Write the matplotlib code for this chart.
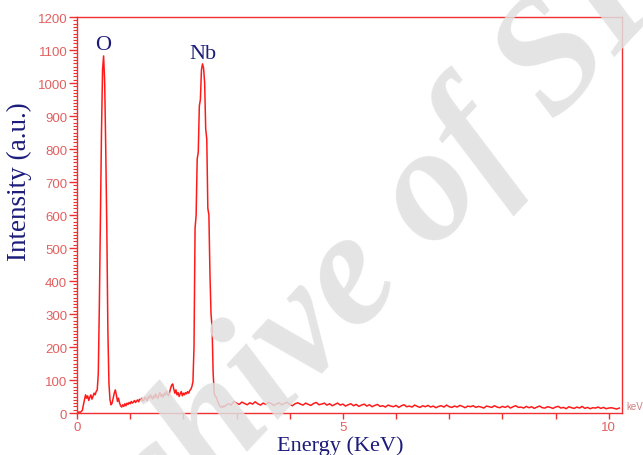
import numpy as np
import matplotlib.pyplot as plt
from matplotlib.ticker import MultipleLocator

# EDS spectrum, low-energy part: channels of 0.02 keV from 0 to 2.80 keV
e_low_start, e_low_step = 0.0, 0.02
counts_low = [
    0, 2, 3, 2, 5, 8, 25, 40, 55, 45, 52, 38, 48, 55, 42, 50, 60, 55, 65, 70,   # 0.00-0.38
    120, 330, 600, 850, 1040, 1082, 1000, 800, 560, 250, 90, 40,                 # 0.40-0.62 (O Ka)
    25, 30, 45, 60, 70, 55, 35, 45, 30, 22, 18, 25, 20, 28, 22, 30, 26, 32,      # 0.64-0.98
    28, 35, 30, 33, 38, 32, 36, 40, 34, 42, 38, 45, 36, 40, 48, 42, 38, 50,      # 1.00-1.34
    45, 55, 48, 42, 52, 46, 58, 50, 44, 55, 62, 50, 56, 48, 60, 54, 65, 58,      # 1.36-1.70
    52, 62, 75, 85, 88, 72, 60, 70, 55, 62, 50, 58, 65, 52, 60, 55, 62, 58,      # 1.72-2.06
    65, 60, 68, 72, 80, 95, 200, 560, 600, 770, 790, 930, 950, 1040, 1058,       # 2.08-2.36
    1045, 1000, 860, 830, 620, 600, 420, 300, 260, 120, 60, 50, 48, 38, 30,      # 2.38-2.66 (Nb L)
    22, 18, 20, 17, 22, 19, 24,                                                  # 2.68-2.80
]

# high-energy part: channels of 0.05 keV from 2.85 to 10.20 keV
e_high_start, e_high_step = 2.85, 0.05
counts_high = [
    28, 24, 35, 30, 26, 33, 29, 25, 31, 27, 34, 28, 24, 30, 26, 32, 29, 23, 27, 31,  # 2.85-3.80
    25, 29, 33, 26, 22, 28, 31, 27, 24, 30, 26, 23, 29, 32, 25, 27, 30, 24, 28, 22,  # 3.85-4.80
    26, 30, 24, 27, 21, 25, 28, 22, 26, 20, 24, 27, 21, 25, 19, 23, 26, 20, 22, 18,  # 4.85-5.80
    24, 21, 19, 23, 17, 22, 25, 19, 21, 18, 24, 20, 17, 22, 19, 23, 18, 21, 16, 20,  # 5.85-6.80
    22, 18, 24, 19, 17, 21, 18, 23, 20, 16, 21, 19, 22, 17, 20, 18, 15, 21, 19, 17,  # 6.85-7.80
    22, 18, 16, 20, 17, 21, 15, 19, 22, 17, 18, 15, 20, 16, 19, 14, 18, 21, 16, 15,  # 7.85-8.80
    19, 17, 14, 18, 20, 15, 17, 13, 19, 16, 14, 18, 15, 20, 14, 17, 13, 16, 15, 18,  # 8.85-9.80
    14, 17, 13, 15, 16, 14, 12, 15,                                                  # 9.85-10.20
]

peak_labels = ['O', 'Nb']
peak_energy = [0.49, 2.37]
peak_label_y = [1118, 1088]

energy = np.concatenate([
    np.round(e_low_start + e_low_step * np.arange(len(counts_low)), 3),
    np.round(e_high_start + e_high_step * np.arange(len(counts_high)), 3),
])
counts = np.array(counts_low + counts_high, dtype=float)

red = '#ff1a1a'
tick_red = '#e26060'
navy = '#1c1c7a'

fig = plt.figure(figsize=(6.43, 4.56), dpi=100)
ax = fig.add_axes([0.1198, 0.0921, 0.8476, 0.8684])

ax.plot(energy, counts, color=red, lw=1.1)

ax.set_xlim(0, 10.25)
ax.set_ylim(0, 1200)

for s in ax.spines.values():
    s.set_color('#f03030')
    s.set_linewidth(1.0)

ax.set_xticks(range(11))
ax.set_xticklabels(['0', '', '', '', '', '5', '', '', '', '', '10'])
ax.yaxis.set_major_locator(MultipleLocator(100))
ax.yaxis.set_minor_locator(MultipleLocator(10))
ax.tick_params(axis='both', which='major', color='#f03030', labelcolor=tick_red,
               labelsize=9.5, direction='out', width=1.0)
ax.tick_params(axis='y', which='major', length=6, pad=1)
ax.tick_params(axis='y', which='minor', length=3, color='#f03030', width=0.8)
ax.tick_params(axis='x', which='major', length=4, pad=2)
for lab in ax.get_xticklabels() + ax.get_yticklabels():
    lab.set_family('Liberation Sans')

ax.set_ylabel('Intensity (a.u.)', family='Liberation Serif', fontsize=19.5, color=navy)
ax.yaxis.set_label_coords(-0.083, 0.586)
ax.set_xlabel('Energy (KeV)', family='Liberation Serif', fontsize=16, color=navy)
ax.xaxis.set_label_coords(0.483, -0.055)

for lab, xe, ye in zip(peak_labels, peak_energy, peak_label_y):
    ax.text(xe, ye, lab, family='Liberation Serif', fontsize=16, color=navy,
            ha='center', va='center')

ax.text(10.33, 20, 'keV', fontsize=7, color='#d08080', family='Liberation Sans',
        va='center', ha='left', clip_on=False)

# watermark
fig.text(0.57, 0.40, 'Archive of SID', family='Liberation Serif', fontsize=118,
         style='italic', weight='bold', color='#e0e0e0', alpha=0.85,
         rotation=47, ha='center', va='center', zorder=10)

fig.savefig('out.png', dpi=100)
